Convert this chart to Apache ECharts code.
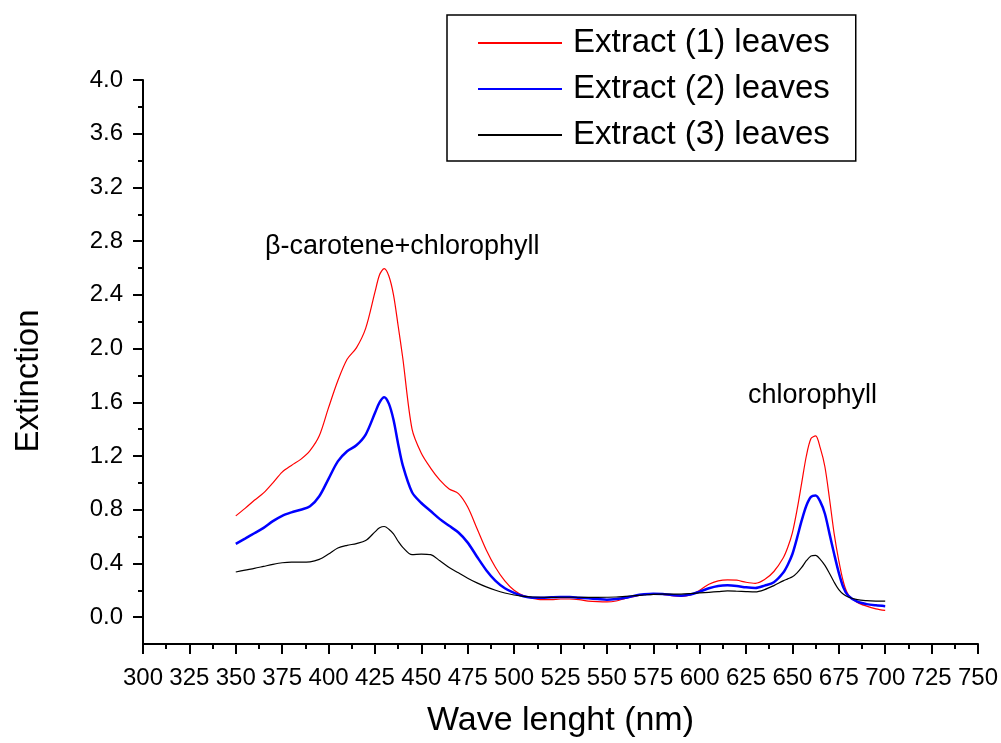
<!DOCTYPE html>
<html>
<head>
<meta charset="utf-8">
<script src="https://cdn.jsdelivr.net/npm/echarts@6/dist/echarts.min.js"></script>
<style>html,body{margin:0;padding:0;background:#fff}#c{width:1001px;height:743px}</style>
</head>
<body>
<div id="c"></div>
<script>
// Wavelengths (nm)
var wavelengths = [350,355,360,365,370,375,380,385,390,395,400,405,410,415,420,425,427.5,430,432.5,435,437.5,440,445,450,455,460,465,470,475,480,485,490,495,500,505,510,515,520,525,530,535,540,545,550,555,560,565,570,575,580,585,590,595,600,605,610,615,620,625,630,635,640,645,647.5,650,652.5,655,657.5,660,662.5,665,667.5,670,672.5,675,677.5,680,685,690,695,700];
var extract1 = [0.754,0.81,0.87,0.925,1.00,1.08,1.13,1.175,1.24,1.35,1.56,1.76,1.92,2.005,2.15,2.42,2.55,2.595,2.54,2.40,2.17,1.93,1.40,1.22,1.11,1.02,0.955,0.92,0.82,0.66,0.50,0.37,0.27,0.20,0.16,0.14,0.13,0.13,0.135,0.135,0.13,0.12,0.115,0.113,0.12,0.14,0.155,0.17,0.173,0.17,0.16,0.155,0.165,0.20,0.245,0.27,0.278,0.275,0.26,0.252,0.28,0.34,0.44,0.52,0.63,0.80,1.0,1.20,1.33,1.35,1.26,1.12,0.88,0.62,0.42,0.26,0.17,0.11,0.082,0.062,0.05];
var extract2 = [0.546,0.585,0.625,0.665,0.715,0.755,0.78,0.80,0.825,0.90,1.03,1.16,1.235,1.28,1.36,1.52,1.60,1.638,1.59,1.47,1.29,1.13,0.93,0.85,0.79,0.73,0.68,0.63,0.555,0.45,0.35,0.27,0.215,0.18,0.155,0.145,0.145,0.148,0.15,0.15,0.145,0.14,0.135,0.13,0.135,0.145,0.16,0.17,0.175,0.172,0.165,0.16,0.168,0.19,0.215,0.232,0.237,0.232,0.222,0.217,0.235,0.26,0.33,0.39,0.47,0.59,0.72,0.83,0.895,0.905,0.86,0.77,0.62,0.47,0.33,0.22,0.16,0.115,0.097,0.088,0.082];
var extract3 = [0.336,0.35,0.363,0.378,0.393,0.405,0.41,0.41,0.412,0.43,0.47,0.515,0.535,0.548,0.57,0.635,0.665,0.675,0.655,0.62,0.565,0.52,0.465,0.47,0.465,0.42,0.37,0.33,0.29,0.255,0.225,0.2,0.18,0.165,0.155,0.15,0.148,0.147,0.148,0.148,0.148,0.147,0.147,0.148,0.15,0.155,0.16,0.165,0.17,0.172,0.172,0.172,0.175,0.18,0.185,0.19,0.195,0.193,0.19,0.188,0.205,0.235,0.27,0.285,0.30,0.33,0.37,0.42,0.455,0.46,0.43,0.385,0.325,0.26,0.205,0.17,0.15,0.13,0.123,0.12,0.119];
var seriesNames = ['Extract (1) leaves','Extract (2) leaves','Extract (3) leaves'];
var yMajorTicks = [0.0,0.4,0.8,1.2,1.6,2.0,2.4,2.8,3.2,3.6,4.0];
var yMinorTicks = [0.2,0.6,1.0,1.4,1.8,2.2,2.6,3.0,3.4,3.8];
var annotations = ['\u03b2-carotene+chlorophyll','chlorophyll'];

function pairs(vals){ return wavelengths.map(function(w,i){ return [w, vals[i]]; }); }

var FONT = '"Liberation Sans", Arial, sans-serif';
var chart = echarts.init(document.getElementById('c'), null, {renderer:'canvas'});
chart.setOption({
  backgroundColor: '#ffffff',
  animation: false,
  textStyle: {fontFamily: FONT, color: '#000'},
  grid: {left: 143, right: 23, top: 80, bottom: 97, containLabel: false},
  legend: {
    left: 447, top: 15, orient: 'vertical',
    data: seriesNames,
    itemWidth: 84, itemHeight: 2, itemGap: 12,
    padding: [11, 26, 9, 30],
    borderColor: '#000', borderWidth: 1.5,
    textStyle: {fontSize: 33, fontFamily: FONT, color: '#000', lineHeight: 34, padding: [0,0,0,6]},
    selectedMode: false
  },
  xAxis: {
    type: 'value', min: 300, max: 750, interval: 25,
    name: 'Wave lenght (nm)', nameLocation: 'middle', nameGap: 60,
    nameTextStyle: {fontSize: 34, fontFamily: FONT, color: '#000'},
    axisLine: {show: true, onZero: false, lineStyle: {color: '#000', width: 2}},
    axisTick: {show: true, length: 10, lineStyle: {color: '#000', width: 2}},
    minorTick: {show: true, splitNumber: 2, length: 5, lineStyle: {color: '#000', width: 2}},
    axisLabel: {fontSize: 24, fontFamily: FONT, color: '#000', margin: 22},
    splitLine: {show: false}
  },
  yAxis: [{
    type: 'value', min: -0.2, max: 4.0, position: 'left',
    name: 'Extinction', nameLocation: 'middle', nameGap: 98, nameRotate: 90,
    nameTextStyle: {fontSize: 33, fontFamily: FONT, color: '#000', padding: [0, 38, 0, 0]},
    axisLine: {show: true, onZero: false, lineStyle: {color: '#000', width: 2}},
    axisTick: {show: true, length: 10, customValues: yMajorTicks, lineStyle: {color: '#000', width: 2}},
    axisLabel: {fontSize: 24, fontFamily: FONT, color: '#000', margin: 20, customValues: yMajorTicks,
      formatter: function(v){ return v.toFixed(1); }},
    splitLine: {show: false}
  },{
    type: 'value', min: -0.2, max: 4.0, position: 'left',
    axisLine: {show: false, onZero: false},
    axisTick: {show: true, length: 5, customValues: yMinorTicks, lineStyle: {color: '#000', width: 2}},
    axisLabel: {show: false},
    splitLine: {show: false}
  }],
  series: [
    {name: seriesNames[0], type: 'line', data: pairs(extract1), smooth: 0.3, symbol: 'none', lineStyle: {color: '#ff0000', width: 1.2}, itemStyle: {color: '#ff0000'}},
    {name: seriesNames[1], type: 'line', data: pairs(extract2), smooth: 0.3, symbol: 'none', lineStyle: {color: '#0000ff', width: 2.5}, itemStyle: {color: '#0000ff'}},
    {name: seriesNames[2], type: 'line', data: pairs(extract3), smooth: 0.3, symbol: 'none', lineStyle: {color: '#000000', width: 1.2}, itemStyle: {color: '#000000'}}
  ],
  graphic: [
    {type: 'text', left: 265, top: 233, style: {text: annotations[0], font: '27px ' + FONT, fill: '#000'}},
    {type: 'text', left: 748, top: 382, style: {text: annotations[1], font: '27px ' + FONT, fill: '#000'}}
  ]
});
</script>
</body>
</html>
